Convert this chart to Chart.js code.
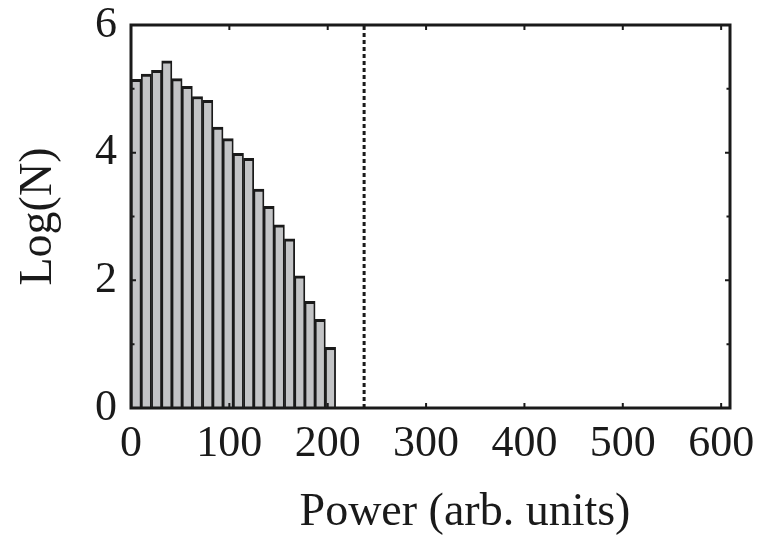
<!DOCTYPE html>
<html><head><meta charset="utf-8">
<script src="https://cdn.jsdelivr.net/npm/chart.js@4/dist/chart.umd.min.js"></script>
<style>html,body{margin:0;padding:0;background:#fff}canvas{display:block}</style>
</head><body>
<canvas id="c" width="773" height="536"></canvas>
<script>
// Centre of each power bin (arb. units)
const binCenters = [5.2, 15.6, 26.0, 36.4, 46.8, 57.2, 67.6, 78.0, 88.4, 98.8, 109.2, 119.6, 130.0, 140.4, 150.8, 161.2, 171.6, 182.0, 192.4, 202.8];
// log10 of the count in each bin
const logCounts = [5.15, 5.23, 5.29, 5.44, 5.16, 5.04, 4.88, 4.82, 4.40, 4.22, 3.99, 3.91, 3.43, 3.16, 2.87, 2.65, 2.07, 1.67, 1.39, 0.95];
// Threshold power marked by the dashed line
const thresholdPower = 237;
const xTicks = [0, 100, 200, 300, 400, 500, 600];
const yTicks = [0, 2, 4, 6];
const yMinorTicks = [1, 3, 5];

const ink = '#1a1a1a';
const serif = 'Liberation Serif, Times New Roman, serif';

// Box frame with short inward tick marks on all four sides
const frameTicks = {
  id: 'frameTicks',
  afterDatasetsDraw(chart) {
    const {ctx, chartArea: a, scales: {x, y}} = chart;
    ctx.save();
    ctx.strokeStyle = ink;
    ctx.lineWidth = 3;
    ctx.strokeRect(a.left, a.top, a.right - a.left, a.bottom - a.top);
    ctx.lineWidth = 2;
    ctx.beginPath();
    xTicks.forEach(v => {
      const px = x.getPixelForValue(v);
      ctx.moveTo(px, a.bottom); ctx.lineTo(px, a.bottom - 5);
      ctx.moveTo(px, a.top); ctx.lineTo(px, a.top + 5);
    });
    const yMark = (v, len) => {
      const py = y.getPixelForValue(v);
      ctx.moveTo(a.left, py); ctx.lineTo(a.left + len, py);
      ctx.moveTo(a.right, py); ctx.lineTo(a.right - len, py);
    };
    yTicks.forEach(v => yMark(v, 5));
    yMinorTicks.forEach(v => yMark(v, 3.5));
    ctx.stroke();
    ctx.restore();
  }
};

new Chart(document.getElementById('c'), {
  type: 'bar',
  data: {
    datasets: [
      {
        type: 'line',
        data: [{x: thresholdPower, y: 0}, {x: thresholdPower, y: 6}],
        borderColor: ink,
        borderWidth: 3,
        borderDash: [4, 3],
        pointRadius: 0,
        fill: false,
        order: 0
      },
      {
        type: 'bar',
        data: binCenters.map((c, i) => ({x: c, y: logCounts[i]})),
        backgroundColor: '#c3c4c6',
        borderColor: ink,
        borderWidth: {top: 3, left: 1.8, right: 1.8, bottom: 0},
        borderSkipped: false,
        barPercentage: 1,
        categoryPercentage: 1,
        order: 1
      }
    ]
  },
  options: {
    responsive: false,
    animation: false,
    layout: {padding: {top: 25, right: 43, left: 0, bottom: 0}},
    plugins: {legend: {display: false}, tooltip: {enabled: false}},
    scales: {
      x: {
        type: 'linear',
        min: 0,
        max: 609,
        offset: false,
        grid: {display: false, drawTicks: false, offset: false},
        border: {display: false},
        afterBuildTicks: s => { s.ticks = xTicks.map(v => ({value: v})); },
        afterFit: s => { s.height = 128; s.paddingLeft = 0; s.paddingRight = 0; },
        ticks: {
          autoSkip: false,
          maxRotation: 0,
          padding: 14,
          color: ink,
          font: {family: serif, size: 44, lineHeight: 1}
        },
        title: {
          display: true,
          // leading spaces nudge the caption right of the axis centre
          text: '      Power (arb. units)',
          color: ink,
          padding: {top: 0, bottom: 0},
          font: {family: serif, size: 46, lineHeight: 1}
        }
      },
      y: {
        min: 0,
        max: 6,
        grid: {display: false, drawTicks: false},
        border: {display: false},
        afterBuildTicks: s => { s.ticks = yTicks.map(v => ({value: v})); },
        afterFit: s => { s.width = 131; s.paddingTop = 0; s.paddingBottom = 0; },
        ticks: {
          padding: 14,
          color: ink,
          font: {family: serif, size: 44, lineHeight: 1}
        },
        title: {
          display: true,
          text: 'Log(N)',
          color: ink,
          padding: {top: 16, bottom: 0},
          font: {family: serif, size: 46, lineHeight: 1}
        }
      }
    }
  },
  plugins: [frameTicks]
});
</script>
</body></html>
